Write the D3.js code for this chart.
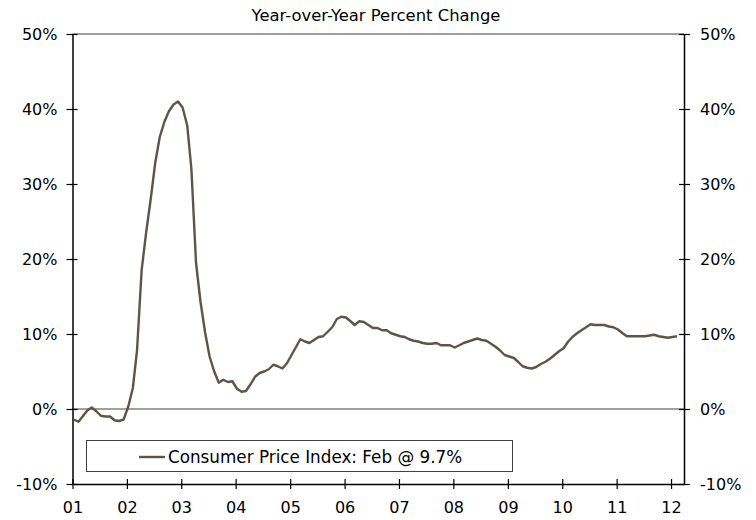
<!DOCTYPE html>
<html>
<head>
<meta charset="utf-8">
<script src="https://cdn.jsdelivr.net/npm/d3@7"></script>
<style>
    body { margin: 0; background: #fff; }
    text { font-family: Verdana, "DejaVu Sans", sans-serif; fill: #000; }
</style>
</head>
<body>
<div class="chart-container"></div>
<script>
// year-over-year % change, monthly
var cpi2001 = [-1.4, -1.7, -1.0, -0.2, 0.2, -0.3, -0.9, -1.0, -1.0, -1.5, -1.6, -1.4];
var cpi2002 = [0.3, 2.8, 7.8, 18.5, 23.5, 28.0, 32.8, 36.3, 38.3, 39.7, 40.6, 41.0];
var cpi2003 = [40.2, 37.8, 32.0, 19.5, 14.3, 10.2, 7.0, 5.0, 3.5, 3.9, 3.6, 3.7];
var cpi2004 = [2.7, 2.3, 2.4, 3.3, 4.3, 4.8, 5.0, 5.3, 5.9, 5.7, 5.4, 6.1];
var cpi2005 = [7.2, 8.3, 9.3, 9.0, 8.8, 9.2, 9.6, 9.7, 10.3, 10.9, 12.0, 12.3];
var cpi2006 = [12.2, 11.7, 11.2, 11.7, 11.6, 11.2, 10.8, 10.8, 10.5, 10.5, 10.1, 9.9];
var cpi2007 = [9.7, 9.6, 9.3, 9.1, 9.0, 8.8, 8.7, 8.7, 8.8, 8.5, 8.5, 8.5];
var cpi2008 = [8.2, 8.5, 8.8, 9.0, 9.2, 9.4, 9.2, 9.1, 8.7, 8.3, 7.8, 7.2];
var cpi2009 = [7.0, 6.8, 6.3, 5.7, 5.5, 5.4, 5.6, 6.0, 6.3, 6.7, 7.2, 7.7];
var cpi2010 = [8.1, 9.0, 9.6, 10.1, 10.5, 10.9, 11.3, 11.2, 11.2, 11.2, 11.0, 10.9];
var cpi2011 = [10.6, 10.1, 9.7, 9.7, 9.7, 9.7, 9.7, 9.8, 9.9, 9.7, 9.6, 9.5];
var cpi2012 = [9.6, 9.7];

var yearLabels = ["01", "02", "03", "04", "05", "06", "07", "08", "09", "10", "11", "12"];
var yTicks = [-10, 0, 10, 20, 30, 40, 50];
var subtitle = "Year-over-Year Percent Change";
var legendLabel = "Consumer Price Index: Feb @ 9.7%";

function buildSeries()
{
    var years = [cpi2001, cpi2002, cpi2003, cpi2004, cpi2005, cpi2006,
        cpi2007, cpi2008, cpi2009, cpi2010, cpi2011, cpi2012];
    var series = [];
    years.forEach(function (vals, yi) {
        vals.forEach(function (v, m) {
            series.push({date: new Date(2001 + yi, m, 10), value: v});
        });
    });
    return series;
}

function initialize(series)
{
    var width = 756, height = 520;
    var left = 72.5, right = 684, top = 34, bottom = 484;

    var svg = d3.select(".chart-container")
            .append("svg")
            .attr("width", width)
            .attr("height", height);

    var x = d3.scaleTime()
            .domain([new Date(2001, 0, 1), new Date(2012, 2, 28)])
            .range([left, right]);

    var y = d3.scaleLinear()
            .domain([-10, 50])
            .range([bottom, top]);

    svg.append("text")
            .attr("x", 376)
            .attr("y", 21)
            .attr("text-anchor", "middle")
            .attr("font-size", "16.4px")
            .attr("fill", "#111")
            .text(subtitle);

    // top border + zero line (grey)
    svg.append("line")
            .attr("x1", left).attr("x2", right)
            .attr("y1", y(50)).attr("y2", y(50))
            .attr("stroke", "#808080")
            .attr("stroke-width", 1.5);

    svg.append("line")
            .attr("x1", left).attr("x2", right)
            .attr("y1", y(0)).attr("y2", y(0))
            .attr("stroke", "#808080")
            .attr("stroke-width", 1.5);

    var fmt = function (d) {
        return d + "%";
    };

    var leftAxis = svg.append("g")
            .attr("transform", "translate(" + left + ",0)")
            .call(d3.axisLeft(y).tickValues(yTicks).tickFormat(fmt)
                    .tickSizeInner(6).tickSizeOuter(0).tickPadding(9));

    var rightAxis = svg.append("g")
            .attr("transform", "translate(" + right + ",0)")
            .call(d3.axisRight(y).tickValues(yTicks).tickFormat(fmt)
                    .tickSizeInner(6).tickSizeOuter(0).tickPadding(10));

    var yearTicks = yearLabels.map(function (s, i) {
        return new Date(2001 + i, 0, 1);
    });

    var bottomAxis = svg.append("g")
            .attr("transform", "translate(0," + bottom + ")")
            .call(d3.axisBottom(x).tickValues(yearTicks)
                    .tickFormat(function (d, i) {
                        return yearLabels[i];
                    })
                    .tickSizeInner(5).tickSizeOuter(0).tickPadding(13));

    [leftAxis, rightAxis, bottomAxis].forEach(function (g) {
        g.selectAll("text")
                .attr("font-size", "16px")
                .attr("font-family", "Verdana, 'DejaVu Sans', sans-serif")
                .attr("fill", "#111");
        g.select(".domain").attr("stroke", "#000").attr("stroke-width", 1.5);
        g.selectAll(".tick line").attr("stroke", "#000").attr("stroke-width", 1.2);
    });

    // ticks cross the axis lines
    leftAxis.selectAll(".tick line").attr("x1", 5).attr("x2", -6);
    rightAxis.selectAll(".tick line").attr("x1", -5).attr("x2", 6);
    bottomAxis.selectAll(".tick line").attr("y1", -5).attr("y2", 5);
    bottomAxis.selectAll(".tick text").attr("dy", "0.71em");

    var line = d3.line()
            .x(function (d) {
                return x(d.date);
            })
            .y(function (d) {
                return y(d.value);
            });

    svg.append("path")
            .datum(series)
            .attr("d", line)
            .attr("fill", "none")
            .attr("stroke", "#5f5449")
            .attr("stroke-width", 2.4)
            .attr("stroke-linejoin", "round");

    // legend
    var legend = svg.append("g");
    legend.append("rect")
            .attr("x", 86.5).attr("y", 440.5)
            .attr("width", 426).attr("height", 31)
            .attr("fill", "#fff")
            .attr("stroke", "#404040")
            .attr("stroke-width", 1);
    legend.append("line")
            .attr("x1", 139).attr("x2", 165)
            .attr("y1", 457).attr("y2", 457)
            .attr("stroke", "#5f5449")
            .attr("stroke-width", 2.4);
    legend.append("text")
            .attr("x", 168)
            .attr("y", 462.5)
            .attr("font-size", "16.8px")
            .attr("fill", "#111")
            .text(legendLabel);
}

initialize(buildSeries());
</script>
</body>
</html>
